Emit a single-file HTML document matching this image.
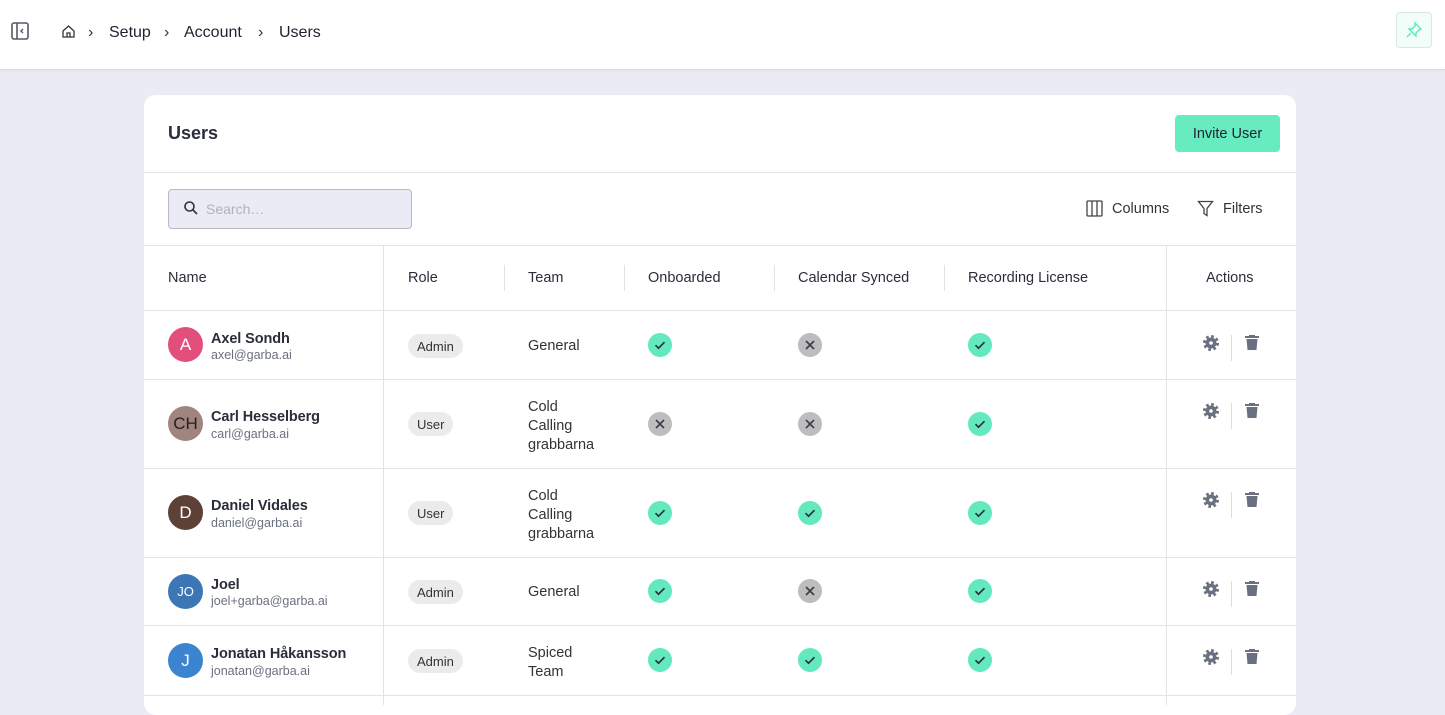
<!DOCTYPE html>
<html><head><meta charset="utf-8"><style>
*{box-sizing:border-box;margin:0;padding:0}
body{width:1445px;height:702px;overflow:hidden;background:#ebebf5;font-family:"Liberation Sans",sans-serif;color:#1e2230;position:relative}
.a{position:absolute}
.top{left:0;top:0;width:1445px;height:70px;background:#fff;border-bottom:1px solid #ddd;box-shadow:0 1px 2px rgba(0,0,0,.05)}
.card{left:144px;top:95px;width:1152px;height:620px;background:#fff;border-radius:12px}
.hl{height:1px;background:#e3e3e3;left:144px;width:1152px}
.vl{width:1px;background:#e3e3e3}
.t{font-size:14.5px;white-space:nowrap;margin-top:2px}
.name{font-size:14.5px;font-weight:bold;color:#2a2e3a;margin-top:2px;letter-spacing:-0.1px}
.mail{font-size:12.5px;color:#6b7080;margin-top:1px}
.av{width:35px;height:35px;border-radius:50%;color:#fff;font-size:17px;text-align:center;line-height:35px}
.pill{height:24px;border-radius:12px;background:#ebebeb;font-size:13px;line-height:25px;padding:0 9px;color:#333}
.hd{font-size:14.5px;color:#2a2e3a;margin-top:2px}
</style></head><body>
<div class="a top"></div>
<svg class="a" style="left:10px;top:21px" width="20" height="20" viewBox="0 0 20 20"><rect x="2" y="2" width="16" height="16" rx="2" fill="none" stroke="#555a66" stroke-width="1.6"/><line x1="7" y1="2" x2="7" y2="18" stroke="#555a66" stroke-width="1.6"/><path d="M13 8l-2 2 2 2" fill="none" stroke="#555a66" stroke-width="1.4"/></svg>
<svg class="a" style="left:61px;top:24px" width="15" height="15" viewBox="0 0 15 15"><path d="M2 7L7.5 2 13 7V13H2Z M6 13V9h3v4" fill="none" stroke="#333" stroke-width="1.3"/></svg>
<div class="a t" style="left:88px;top:22px;font-size:16px;color:#333">›</div>
<div class="a t" style="left:109px;top:22px;font-size:16px">Setup</div>
<div class="a t" style="left:164px;top:22px;font-size:16px;color:#333">›</div>
<div class="a t" style="left:184px;top:22px;font-size:16px">Account</div>
<div class="a t" style="left:258px;top:22px;font-size:16px;color:#333">›</div>
<div class="a t" style="left:279px;top:22px;font-size:16px">Users</div>
<div class="a" style="left:1396px;top:12px;width:36px;height:36px;border:1px solid #d8e8e0;border-radius:4px;background:#f2fcf8"></div>
<svg class="a" style="left:1405px;top:21px" width="18" height="18" viewBox="0 0 18 18"><path d="M10 2l6 6-2 1-3 3 0 3-7-7 3 0 3-3z M6 12l-4 4" fill="none" stroke="#5ee8b8" stroke-width="1.4"/></svg>

<div class="a card"></div>
<div class="a" style="left:168px;top:123px;font-size:18px;font-weight:bold;color:#2a2e3a">Users</div>
<div class="a" style="left:1175px;top:115px;width:105px;height:37px;background:#67ecc0;border-radius:4px;font-size:14.5px;text-align:center;line-height:38px;color:#1e2230">Invite User</div>
<div class="a hl" style="top:172px"></div>
<div class="a" style="left:168px;top:189px;width:244px;height:40px;background:#ebebf5;border:1px solid #b8bac4;border-radius:4px"></div>
<svg class="a" style="left:183px;top:200px" width="16" height="16" viewBox="0 0 16 16"><circle cx="6.5" cy="6.5" r="4.5" fill="none" stroke="#333" stroke-width="1.6"/><line x1="10" y1="10" x2="14" y2="14" stroke="#333" stroke-width="1.6"/></svg>
<div class="a t" style="left:206px;top:199px;color:#b0b3bc;font-size:14px">Search…</div>
<svg class="a" style="left:1086px;top:200px" width="17" height="17" viewBox="0 0 17 17"><rect x="1" y="1" width="15" height="15" rx="1" fill="none" stroke="#444" stroke-width="1.3"/><line x1="6" y1="1" x2="6" y2="16" stroke="#444" stroke-width="1.3"/><line x1="11" y1="1" x2="11" y2="16" stroke="#444" stroke-width="1.3"/></svg>
<div class="a t" style="left:1112px;top:199px;color:#333">Columns</div>
<svg class="a" style="left:1197px;top:200px" width="17" height="17" viewBox="0 0 17 17"><path d="M1.5 1.5h14l-5.5 7v7l-3-2v-5z" fill="none" stroke="#444" stroke-width="1.3"/></svg>
<div class="a t" style="left:1223px;top:199px;color:#333">Filters</div>
<div class="a hl" style="top:245px"></div>
<div class="a vl" style="left:383px;top:245px;height:460px"></div>
<div class="a vl" style="left:1166px;top:245px;height:460px"></div>
<div class="a vl" style="left:504px;top:265px;height:26px"></div>
<div class="a vl" style="left:624px;top:265px;height:26px"></div>
<div class="a vl" style="left:774px;top:265px;height:26px"></div>
<div class="a vl" style="left:944px;top:265px;height:26px"></div>
<div class="a hd" style="left:168px;top:268px">Name</div>
<div class="a hd" style="left:408px;top:268px">Role</div>
<div class="a hd" style="left:528px;top:268px">Team</div>
<div class="a hd" style="left:648px;top:268px">Onboarded</div>
<div class="a hd" style="left:798px;top:268px">Calendar Synced</div>
<div class="a hd" style="left:968px;top:268px">Recording License</div>
<div class="a hd" style="left:1206px;top:268px">Actions</div>
<div class="a hl" style="top:310px"></div>
<div class="a hl" style="top:379px"></div>
<div class="a hl" style="top:468px"></div>
<div class="a hl" style="top:557px"></div>
<div class="a hl" style="top:625px"></div>
<div class="a hl" style="top:695px"></div>

<div class="a av" style="left:168px;top:327px;background:#e24f7c">A</div>
<div class="a name" style="left:211px;top:329px">Axel Sondh</div><div class="a mail" style="left:211px;top:347px">axel@garba.ai</div>
<div class="a av" style="left:168px;top:406px;background:#a0847e;color:#222">CH</div>
<div class="a name" style="left:211px;top:407px">Carl Hesselberg</div><div class="a mail" style="left:211px;top:426px">carl@garba.ai</div>
<div class="a av" style="left:168px;top:495px;background:#5d4136">D</div>
<div class="a name" style="left:211px;top:496px">Daniel Vidales</div><div class="a mail" style="left:211px;top:515px">daniel@garba.ai</div>
<div class="a av" style="left:168px;top:574px;background:#3d76b4;font-size:13px">JO</div>
<div class="a name" style="left:211px;top:575px">Joel</div><div class="a mail" style="left:211px;top:593px">joel+garba@garba.ai</div>
<div class="a av" style="left:168px;top:643px;background:#3a84d0">J</div>
<div class="a name" style="left:211px;top:644px">Jonatan Håkansson</div><div class="a mail" style="left:211px;top:663px">jonatan@garba.ai</div>

<div class="a pill" style="left:408px;top:334px">Admin</div>
<div class="a pill" style="left:408px;top:412px">User</div>
<div class="a pill" style="left:408px;top:501px">User</div>
<div class="a pill" style="left:408px;top:580px">Admin</div>
<div class="a pill" style="left:408px;top:649px">Admin</div>

<div class="a t" style="left:528px;top:336px;color:#333">General</div>
<div class="a t" style="left:528px;top:396px;color:#333;line-height:19px">Cold<br>Calling<br>grabbarna</div>
<div class="a t" style="left:528px;top:485px;color:#333;line-height:19px">Cold<br>Calling<br>grabbarna</div>
<div class="a t" style="left:528px;top:582px;color:#333">General</div>
<div class="a t" style="left:528px;top:642px;color:#333;line-height:19px">Spiced<br>Team</div>

<svg width="0" height="0" style="position:absolute"><defs>
<g id="ck"><circle cx="12" cy="12" r="12" fill="#63e9bd"/><path d="M7.5 12.2l3 3 6-6" fill="none" stroke="#2a2e3a" stroke-width="1.6"/></g>
<g id="xx"><circle cx="12" cy="12" r="12" fill="#bdbdbd"/><path d="M8 8l8 8M16 8l-8 8" stroke="#3a3e4a" stroke-width="1.6"/></g>
<g id="act"><circle cx="8" cy="8" r="5.5" fill="#6b7080"/><circle cx="8" cy="8" r="6.5" fill="none" stroke="#6b7080" stroke-width="3" stroke-dasharray="2.6 2.5"/><circle cx="8" cy="8" r="1.8" fill="#fff"/><rect x="28" y="0" width="1" height="26" fill="#ddd"/><rect x="42" y="1" width="14" height="2" fill="#6b7080"/><rect x="46" y="0" width="6" height="2" fill="#6b7080"/><path d="M43.5 4h11l-1 11h-9z" fill="#6b7080"/></g>
</defs></svg>
<svg class="a" style="left:648px;top:333px" width="24" height="24"><use href="#ck"/></svg>
<svg class="a" style="left:798px;top:333px" width="24" height="24"><use href="#xx"/></svg>
<svg class="a" style="left:968px;top:333px" width="24" height="24"><use href="#ck"/></svg>
<svg class="a" style="left:648px;top:412px" width="24" height="24"><use href="#xx"/></svg>
<svg class="a" style="left:798px;top:412px" width="24" height="24"><use href="#xx"/></svg>
<svg class="a" style="left:968px;top:412px" width="24" height="24"><use href="#ck"/></svg>
<svg class="a" style="left:648px;top:501px" width="24" height="24"><use href="#ck"/></svg>
<svg class="a" style="left:798px;top:501px" width="24" height="24"><use href="#ck"/></svg>
<svg class="a" style="left:968px;top:501px" width="24" height="24"><use href="#ck"/></svg>
<svg class="a" style="left:648px;top:579px" width="24" height="24"><use href="#ck"/></svg>
<svg class="a" style="left:798px;top:579px" width="24" height="24"><use href="#xx"/></svg>
<svg class="a" style="left:968px;top:579px" width="24" height="24"><use href="#ck"/></svg>
<svg class="a" style="left:648px;top:648px" width="24" height="24"><use href="#ck"/></svg>
<svg class="a" style="left:798px;top:648px" width="24" height="24"><use href="#ck"/></svg>
<svg class="a" style="left:968px;top:648px" width="24" height="24"><use href="#ck"/></svg>

<svg class="a" style="left:1203px;top:335px" width="60" height="26"><use href="#act"/></svg>
<svg class="a" style="left:1203px;top:403px" width="60" height="26"><use href="#act"/></svg>
<svg class="a" style="left:1203px;top:492px" width="60" height="26"><use href="#act"/></svg>
<svg class="a" style="left:1203px;top:581px" width="60" height="26"><use href="#act"/></svg>
<svg class="a" style="left:1203px;top:649px" width="60" height="26"><use href="#act"/></svg>
</body></html>
